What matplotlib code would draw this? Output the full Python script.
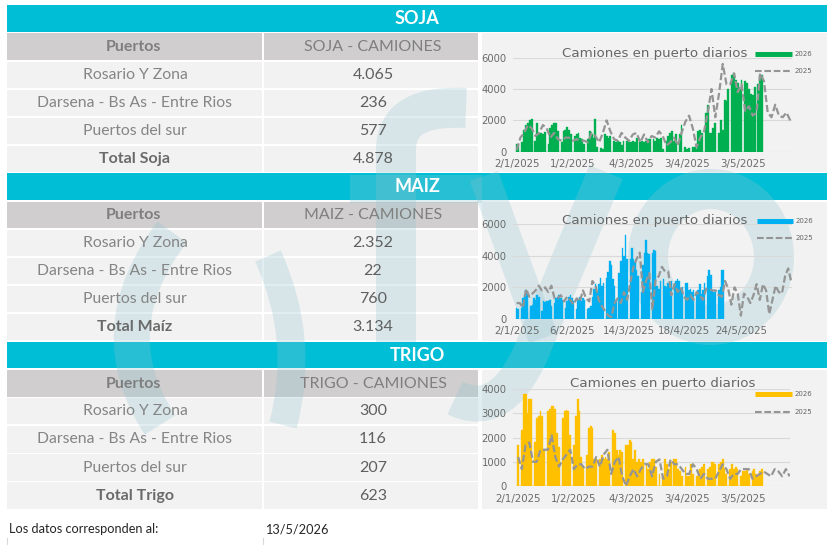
import numpy as np
import pandas as pd
import matplotlib
matplotlib.use('Agg')
import matplotlib.pyplot as plt
from matplotlib.patches import Rectangle, PathPatch, Ellipse
from matplotlib.path import Path

plt.rcParams['font.family'] = ['Lato', 'DejaVu Sans']

# ---------------- data ----------------
ports = ['Rosario Y Zona', 'Darsena - Bs As - Entre Rios', 'Puertos del sur']
sections = ['SOJA', 'MAIZ', 'TRIGO']
col_headers = ['SOJA - CAMIONES', 'MAIZ - CAMIONES', 'TRIGO - CAMIONES']
total_labels = ['Total Soja', 'Total Maíz', 'Total Trigo']
soja_camiones = [4065, 236, 577]
maiz_camiones = [2352, 22, 760]
trigo_camiones = [300, 116, 207]
fecha_datos = '13/5/2026'

soja_ticks = ['2/1/2025', '1/2/2025', '4/3/2025', '3/4/2025', '3/5/2025']
maiz_ticks = ['2/1/2025', '6/2/2025', '14/3/2025', '18/4/2025', '24/5/2025']
trigo_ticks = ['2/1/2025', '1/2/2025', '4/3/2025', '3/4/2025', '3/5/2025']

# daily trucks 2026 (bars) and 2025 (line, every 2 days)
soja_2026 = [500, 400, 0,
             600, 1400, 1700, 1850, 2000, 2100, 0,
             700, 1800, 1100, 1200, 1150, 1250, 0,
             500, 1500, 1700, 1850, 1800, 1300, 0,
             600, 1300, 1400, 1550, 1400, 1100, 0,
             1000, 1100, 1200, 900, 800, 500, 0,
             800, 1300, 1100, 900, 2100, 300, 0,
             250, 200, 1100, 1000, 900, 1000, 0,
             700, 600, 700, 650, 400, 700, 0,
             700, 600, 600, 700, 600, 900, 0,
             600, 700, 600, 700, 800, 800, 0,
             800, 700, 900, 800, 850, 200, 0,
             700, 1000, 1200, 1300, 700, 1100, 0,
             1100, 1700, 0, 300, 200, 250, 0,
             300, 300, 200, 1300, 1400, 1200, 0,
             2500, 3000, 1200, 1200, 1500, 1800, 0,
             1200, 2000, 1400, 3300, 3250, 4000, 0,
             4900, 5000, 4600, 4400, 4000, 4600, 0,
             4500, 4400, 4000, 3700, 3600, 4100, 0,
             4300, 4900, 4900]
soja_2025 = [100, 900, 1200, 1700, 1500, 1000, 1200, 1700, 1500, 900,
             1200, 800, 700, 900, 900, 700, 800, 700, 700, 600,
             1200, 1000, 600, 1200, 2000, 1300, 800, 700, 1200, 900,
             700, 1100, 1200, 600, 1100, 600, 1000, 900, 1300, 1000,
             400, 600, 900, 400, 1200, 1900, 2300, 1500, 300, 900,
             1300, 2500, 4000, 2200, 3700, 5600, 4300, 4300, 5000, 3800,
             4300, 2600, 2900, 2300, 2500, 5000, 4500, 2500, 2200, 3000,
             2300, 2200, 2500, 2000]

maiz_2026 = [700, 650, 0,
             700, 1300, 1500, 1800, 1600, 0,
             800, 900, 1300, 1200, 1500, 1400, 0,
             500, 1100, 1050, 1100, 1150, 1200, 800, 0,
             1000, 1300, 1400, 1500, 1300, 1200, 0,
             700, 1100, 1400, 1500, 1300, 1100, 0,
             600, 1200, 1400, 1100, 1300, 1200, 0,
             600, 700, 800, 1400, 1900, 2200, 1700,
             2200, 2600, 2100, 2300, 0, 2600, 3000,
             3700, 3400, 2500, 2100, 1200, 0, 2900,
             3700, 4500, 4000, 5300, 3800, 0, 3800,
             4500, 3800, 3600, 3100, 2700, 0, 1700,
             3400, 4200, 5000, 4200, 4100, 0, 4200,
             4400, 4300, 2100, 1900, 2400, 0,
             2500, 2100, 2000, 2300, 2200, 2400, 0,
             2200, 2400, 2500, 2400, 1900, 2000, 0,
             2300, 2300, 1800, 1900, 1700, 1800, 0,
             1700, 1800, 2200, 1600, 1800, 2300, 0,
             2700, 3100, 2800, 1800, 1700, 1800, 0,
             1800, 2000, 3100, 3100]
maiz_2025 = [1000, 1000, 700, 1900, 1400, 1600, 1800, 2100, 1800, 2000,
             1700, 2100, 1300, 1300, 1500, 1100, 1400, 1200, 900, 1300,
             1100, 1800, 1300, 1100, 2400, 2100, 1200, 800, 500, 200,
             100, 1000, 1300, 1000, 1700, 1200, 2300, 3300, 3800, 4200,
             1700, 2400, 2900, 600, 2500, 2700, 3300, 3000, 3000, 1500,
             2200, 1700, 2000, 1400, 1200, 1500, 1200, 1700, 1500, 1200,
             1900, 1900, 1800, 1800, 1500, 1400, 2400, 1900, 900, 2000,
             1600, 200, 1600, 1400, 1000, 1500, 2200, 1200, 2200, 1800,
             300, 1200, 2100, 1700, 1600, 2700, 3200, 2300]

trigo_2026 = [1700, 0, 2300, 3800, 3800, 3000, 3600, 3600, 0,
              1800, 2800, 2900, 3100, 2900, 1500, 0,
              3100, 3200, 3300, 3300, 3200, 2200, 1600, 0,
              2800, 3100, 3150, 3100, 2100, 0,
              1700, 2900, 3600, 3100, 1200, 800, 0,
              1300, 2400, 2500, 2400, 1100, 1100, 0,
              1100, 1300, 1100, 1200, 1100, 1400, 0,
              2300, 2200, 1500, 1300, 1500, 1400, 0,
              1700, 1700, 1900, 1800, 1100, 1500, 1000,
              1100, 1000, 1100, 0, 900, 700, 1000, 1100, 1100, 800, 0,
              500, 0, 400, 1100, 900, 700, 1000, 0,
              1100, 1100, 700, 600, 400, 0,
              800, 400, 400, 900, 500, 0,
              400, 600, 700, 800, 900, 0,
              700, 800, 1000, 1000, 900, 0,
              900, 1000, 1100, 700, 500, 0,
              700, 900, 700, 800, 700, 0,
              400, 600, 600, 700, 500, 0,
              600, 700, 500, 400, 600, 700]
trigo_2025 = [1200, 700, 1700, 1800, 1000, 1000, 1500, 1500, 1500, 2100,
              1200, 800, 1100, 1300, 1500, 700, 900, 900, 700, 800,
              800, 1200, 800, 1300, 1500, 500, 1000, 1200, 400, 0,
              400, 700, 400, 700, 900, 900, 400, 1000, 1100, 300,
              400, 1100, 900, 900, 700, 500, 500, 900, 700, 300,
              500, 300, 300, 300, 600, 900, 700, 300, 500, 500,
              700, 700, 700, 300, 400, 500, 600, 500, 400, 700,
              600, 400, 700, 400]

# ---------------- styling ----------------
TEAL = '#00bed5'
HDR = '#d0cece'
ROW = '#f2f2f2'
TXT_L = '#7f7f7f'
TXT_D = '#5f5f5f'
WM = '#8fc3d0'
WA = 0.27
W, H = 833, 545
PX = 0.72  # points per pixel at dpi 100

fig = plt.figure(figsize=(W / 100, H / 100), dpi=100)
bg = fig.add_axes([0, 0, 1, 1])
bg.set_xlim(0, W); bg.set_ylim(H, 0); bg.axis('off')


def fmt(n):
    return f'{n:,}'.replace(',', '.')


camiones = [soja_camiones, maiz_camiones, trigo_camiones]
section_h = 168.3
tops = [5 + section_h * i for i in range(3)]

for i, top in enumerate(tops):
    bg.add_patch(Rectangle((6.7, top), 820.3, 26.5, color=TEAL, lw=0))
    bg.add_patch(Rectangle((6.7, top + 28.3), 255.3, 26.7, color=HDR, lw=0))
    bg.add_patch(Rectangle((264, top + 28.3), 214, 26.7, color=HDR, lw=0))
    for j in range(4):
        y0 = top + 56.5 + 28.1 * j
        bg.add_patch(Rectangle((6.7, y0), 255.3, 26.3, color=ROW, lw=0))
        bg.add_patch(Rectangle((264, y0), 214, 26.3, color=ROW, lw=0))
    bg.add_patch(Rectangle((482, top + 28.3), 345, 139, color=ROW, lw=0))


# ---------------- watermark (fyo logo, faint) ----------------
def stroke(verts, codes, width_px):
    bg.add_patch(PathPatch(Path(verts, codes), fill=False, lw=width_px * PX,
                           edgecolor=WM, alpha=WA, capstyle='butt',
                           joinstyle='round', zorder=3))


M, L, C3 = Path.MOVETO, Path.LINETO, Path.CURVE3
stroke([(172, 232), (98, 330), (160, 425)], [M, C3, C3], 36)          # (
stroke([(268, 256), (306, 340), (283, 425)], [M, C3, C3], 28)         # )
stroke([(396, 342), (396, 150), (396, 104), (466, 108)], [M, L, C3, C3], 40)  # f
stroke([(350, 189), (482, 189)], [M, L], 28)                           # f bar
stroke([(484, 176), (543, 338)], [M, L], 30)                           # y left arm
stroke([(606, 172), (530, 355), (500, 420), (455, 398)], [M, L, C3, C3], 36)  # y tail
bg.add_patch(Ellipse((711, 257), 2 * 63, 2 * 68, fill=False, lw=40 * PX,
                     edgecolor=WM, alpha=WA, zorder=3))                # o

# overlay for text
ov = fig.add_axes([0, 0, 1, 1], zorder=5)
ov.set_xlim(0, W); ov.set_ylim(H, 0); ov.axis('off'); ov.patch.set_alpha(0)

for i, top in enumerate(tops):
    ov.text(417, top + 13.5, sections[i], color='white', fontsize=13,
            fontweight='bold', ha='center', va='center')
    ov.text(133, top + 42, 'Puertos', color=TXT_L, fontsize=11.5,
            fontweight='bold', ha='center', va='center')
    ov.text(373, top + 42, col_headers[i], color=TXT_L, fontsize=11.5,
            ha='center', va='center')
    vals = camiones[i]
    for j in range(3):
        yc = top + 56.5 + 28.1 * j + 13.2
        ov.text(135, yc, ports[j], color='#858585', fontsize=11.3,
                ha='center', va='center')
        ov.text(373, yc, fmt(vals[j]), color=TXT_D, fontsize=11.5,
                ha='center', va='center')
    yc = top + 56.5 + 28.1 * 3 + 13.2
    ov.text(135, yc, total_labels[i], color='#6a6a6a', fontsize=11.5,
            fontweight='bold', ha='center', va='center')
    ov.text(373, yc, fmt(sum(vals)), color=TXT_D, fontsize=11.5,
            ha='center', va='center')

ov.text(9, 529, 'Los datos corresponden al:', color='#262626', fontsize=9.2,
        ha='left', va='center')
ov.text(265, 529, fecha_datos, color='#262626', fontsize=9.2,
        ha='left', va='center')
ov.plot([7, 7], [538, 545], color='#d9d9d9', lw=0.8)
ov.plot([263, 263], [538, 545], color='#d9d9d9', lw=0.8)

# ---------------- charts ----------------
start = pd.Timestamp('2025-01-02')
charts = [
    dict(bars=soja_2026, line=soja_2025, color='#00b050', ticks=soja_ticks,
         px=(513.3, 791.7, 151.7, 57.7), ylim=6000, ystep=2000,
         xl=(-1.8, 146.8), title=(655, 53.3), leg=(755, 792, 54, 71)),
    dict(bars=maiz_2026, line=maiz_2025, color='#00b0f0', ticks=maiz_ticks,
         px=(513.3, 791.7, 318.8, 224.3), ylim=6000, ystep=2000,
         xl=(-2.1, 174.2), title=(655, 220.7), leg=(757, 793, 220.7, 237.7)),
    dict(bars=trigo_2026, line=trigo_2025, color='#ffc000', ticks=trigo_ticks,
         px=(513.3, 790.0, 486.0, 389.3), ylim=4000, ystep=1000,
         xl=(-2.6, 146.2), title=(663, 383.3), leg=(755, 792, 394, 411.7)),
]

for c in charts:
    l, r, b, t = c['px']
    ax = fig.add_axes([l / W, 1 - b / H, (r - l) / W, (b - t) / H], zorder=2)
    ax.patch.set_alpha(0)
    bd = pd.date_range(start, periods=len(c['bars']), freq='D')
    ld = pd.date_range(start, periods=len(c['line']), freq='2D')
    ax.bar(bd, c['bars'], width=1.0, color=c['color'], edgecolor=c['color'],
           lw=0.25, zorder=2)
    ax.plot(ld, c['line'], color='#959595', lw=1.6, ls=(0, (3.2, 1.3)), zorder=3)
    ax.set_xlim(start + pd.Timedelta(days=c['xl'][0]), start + pd.Timedelta(days=c['xl'][1]))
    ax.set_ylim(0, c['ylim'])
    yt = np.arange(0, c['ylim'] + 1, c['ystep'])
    ax.set_yticks(yt)
    ax.set_yticklabels([str(int(v)) for v in yt])
    ax.set_xticks(pd.to_datetime(c['ticks'], format='%d/%m/%Y'))
    ax.set_xticklabels(c['ticks'])
    ax.grid(axis='y', color='#d9d9d9', lw=0.8, zorder=0)
    ax.set_axisbelow(True)
    for s in ax.spines.values():
        s.set_visible(False)
    ax.tick_params(axis='y', length=0, labelsize=7.2, colors='#6b6b6b', pad=4.8)
    ax.tick_params(axis='x', length=0, labelsize=7.4, colors='#6b6b6b', pad=5.5)
    for lab in ax.get_xticklabels() + ax.get_yticklabels():
        lab.set_fontfamily(['DejaVu Sans'])
    tx, ty = c['title']
    ov.text(tx, ty, 'Camiones en puerto diarios', color='#666666', fontsize=9.6,
            family=['DejaVu Sans'], ha='center', va='center')
    x0, x1, y26, y25 = c['leg']
    ov.plot([x0, x1], [y26, y26], color=c['color'], lw=3.6, solid_capstyle='butt')
    ov.plot([x0, x1], [y25, y25], color='#959595', lw=1.5, ls=(0, (3.2, 1.3)))
    ov.text(x1 + 3, y26, '2026', color='#666666', fontsize=5, family=['DejaVu Sans'],
            ha='left', va='center')
    ov.text(x1 + 3, y25, '2025', color='#666666', fontsize=5, family=['DejaVu Sans'],
            ha='left', va='center')

fig.savefig('out.png', dpi=100)
